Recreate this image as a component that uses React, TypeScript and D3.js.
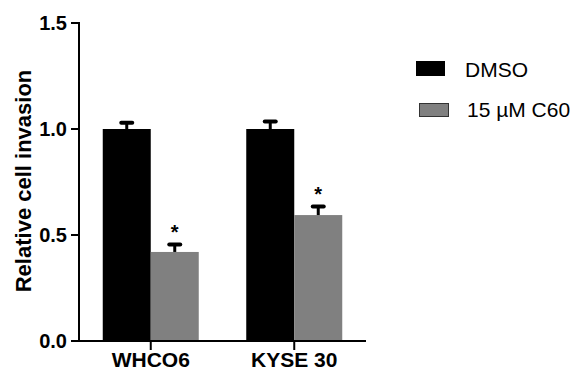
import React from "react";
import * as d3 from "d3";

const categories = ["WHCO6", "KYSE 30"];
const seriesNames = ["DMSO", "15 µM C60"];
const dmsoValues = [1.0, 1.0];
const dmsoErrors = [0.03, 0.035];
const c60Values = [0.42, 0.594];
const c60Errors = [0.035, 0.04];
const significant = [true, true];
const yTicks = [0.0, 0.5, 1.0, 1.5];
const colors = ["#000000", "#808080"];

const font = "Arial, 'Liberation Sans', sans-serif";

const App = () => {
  const x0 = d3.scalePoint<string>().domain(categories).range([79, 366]).padding(0.5);
  const y = d3.scaleLinear().domain([0, 1.5]).range([341, 23]);
  const barW = 48;

  const series = [
    { name: seriesNames[0], values: dmsoValues, errors: dmsoErrors, color: colors[0] },
    { name: seriesNames[1], values: c60Values, errors: c60Errors, color: colors[1] },
  ];

  return (
    <svg width={579} height={371} style={{ position: "absolute", left: 0, top: 0 }} fontFamily={font}>
      <rect width={579} height={371} fill="#fff" />
      {/* bars */}
      {series.map((s, si) =>
        categories.map((c, i) => {
          const cx = x0(c)!;
          const left = si === 0 ? cx - barW : cx;
          const top = y(s.values[i]);
          const errTop = y(s.values[i] + s.errors[i]);
          const mid = left + barW / 2;
          return (
            <g key={s.name + c}>
              <rect x={left} y={top} width={barW} height={y(0) - top} fill={s.color} />
              <line x1={mid} x2={mid} y1={top} y2={errTop} stroke="#000" strokeWidth={3} />
              <line x1={mid - 5.5} x2={mid + 5.5} y1={errTop} y2={errTop} stroke="#000" strokeWidth={4} strokeLinecap="round" />
              {si === 1 && significant[i] && (
                <text x={mid} y={errTop - 6} textAnchor="middle" fontSize={20} fontWeight="bold">*</text>
              )}
            </g>
          );
        })
      )}
      {/* y axis */}
      <line x1={79} x2={79} y1={y(1.5) - 1} y2={y(0) + 1} stroke="#000" strokeWidth={2} />
      {yTicks.map((t) => (
        <g key={t}>
          <line x1={71} x2={79} y1={y(t)} y2={y(t)} stroke="#000" strokeWidth={2} />
          <text x={67} y={y(t)} dy="0.35em" textAnchor="end" fontSize={20} fontWeight="bold">
            {t.toFixed(1)}
          </text>
        </g>
      ))}
      {/* x axis */}
      <line x1={78} x2={366} y1={y(0)} y2={y(0)} stroke="#000" strokeWidth={2} />
      {categories.map((c) => (
        <g key={c}>
          <line x1={x0(c)!} x2={x0(c)!} y1={y(0)} y2={y(0) + 9} stroke="#000" strokeWidth={2} />
          <text x={x0(c)!} y={367} textAnchor="middle" fontSize={21} fontWeight="bold">{c}</text>
        </g>
      ))}
      <text transform="translate(31,181) rotate(-90)" textAnchor="middle" fontSize={22} fontWeight="bold">
        Relative cell invasion
      </text>
      {/* legend */}
      <rect x={416} y={61} width={29} height={15} fill={colors[0]} />
      <text x={465} y={77} fontSize={21}>{seriesNames[0]}</text>
      <rect x={419.5} y={103.5} width={29} height={13} fill={colors[1]} stroke="#333" strokeWidth={1} />
      <text x={467} y={117} fontSize={21}>{seriesNames[1]}</text>
    </svg>
  );
};

export default App;
